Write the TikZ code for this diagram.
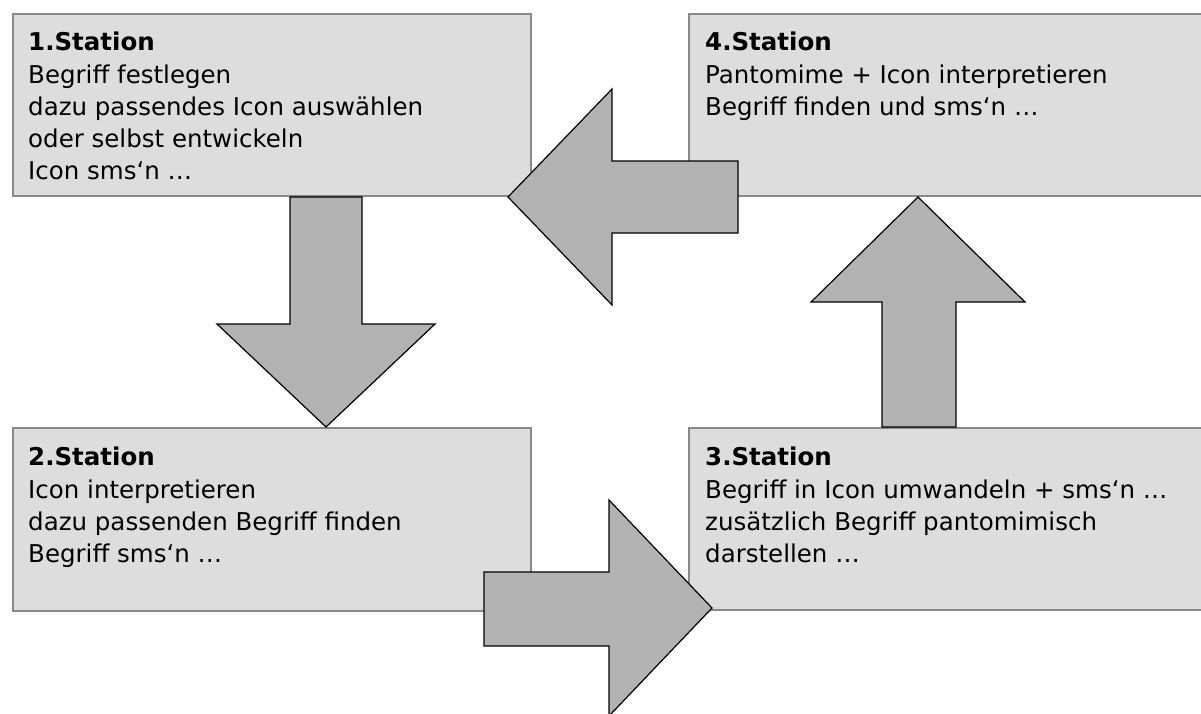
\documentclass[tikz,border=0pt]{standalone}
\usepackage{fontspec}
\setmainfont{DejaVu Sans}
\definecolor{boxfill}{HTML}{DDDDDD}
\definecolor{boxline}{HTML}{888888}
\definecolor{arrowfill}{HTML}{B2B2B2}
\begin{document}
\begin{tikzpicture}[x=1pt,y=-1pt,
  stationbox/.style={draw=boxline,fill=boxfill,line width=1.5pt,inner sep=0pt,anchor=north west},
  titletext/.style={anchor=base west,inner sep=0pt,font=\fontsize{24.5}{30}\selectfont\bfseries},
  bodytext/.style={anchor=base west,inner sep=0pt,font=\fontsize{24.5}{30}\selectfont},
  blockarrow/.style={draw=black,fill=arrowfill,line width=1.2pt,line join=miter}
]
\useasboundingbox (0,0) rectangle (1201,713);
% boxes
\node[stationbox,minimum width=518pt,minimum height=182pt] (box1) at (12,13) {};
\node[stationbox,minimum width=515pt,minimum height=182pt] (box4) at (688,13) {};
\node[stationbox,minimum width=518pt,minimum height=183pt] (box2) at (12,427) {};
\node[stationbox,minimum width=515pt,minimum height=182pt] (box3) at (688,427) {};
% texts box 1
\node[titletext] (t1) at (28,50) {1.Station};
\node[bodytext] (t1a) at (28,83) {Begriff festlegen};
\node[bodytext] (t1b) at (28,115) {dazu passendes Icon auswählen};
\node[bodytext] (t1c) at (28,147) {oder selbst entwickeln};
\node[bodytext] (t1d) at (28,179) {Icon sms‘n …};
% texts box 4
\node[titletext] (t4) at (705,50) {4.Station};
\node[bodytext] (t4a) at (705,83) {Pantomime + Icon interpretieren};
\node[bodytext] (t4b) at (705,115) {Begriff finden und sms‘n …};
% texts box 2
\node[titletext] (t2) at (28,465) {2.Station};
\node[bodytext] (t2a) at (28,498) {Icon interpretieren};
\node[bodytext] (t2b) at (28,530) {dazu passenden Begriff finden};
\node[bodytext] (t2c) at (28,562) {Begriff sms‘n …};
% texts box 3
\node[titletext] (t3) at (705,465) {3.Station};
\node[bodytext] (t3a) at (705,498) {Begriff in Icon umwandeln + sms‘n …};
\node[bodytext] (t3b) at (705,530) {zusätzlich Begriff pantomimisch};
\node[bodytext] (t3c) at (705,562) {darstellen …};
% arrows
\path[blockarrow] (290,197) -- (362,197) -- (362,324) -- (435,324) -- (326,427) -- (217,324) -- (290,324) -- cycle;
\path[blockarrow] (508,197) -- (612,89) -- (612,161) -- (738,161) -- (738,233) -- (612,233) -- (612,305) -- cycle;
\path[blockarrow] (918,197) -- (1025,302) -- (956,302) -- (956,427) -- (882,427) -- (882,302) -- (811,302) -- cycle;
\path[blockarrow] (484,572) -- (609,572) -- (609,500) -- (712,608) -- (609,716) -- (609,646) -- (484,646) -- cycle;
\end{tikzpicture}
\end{document}
